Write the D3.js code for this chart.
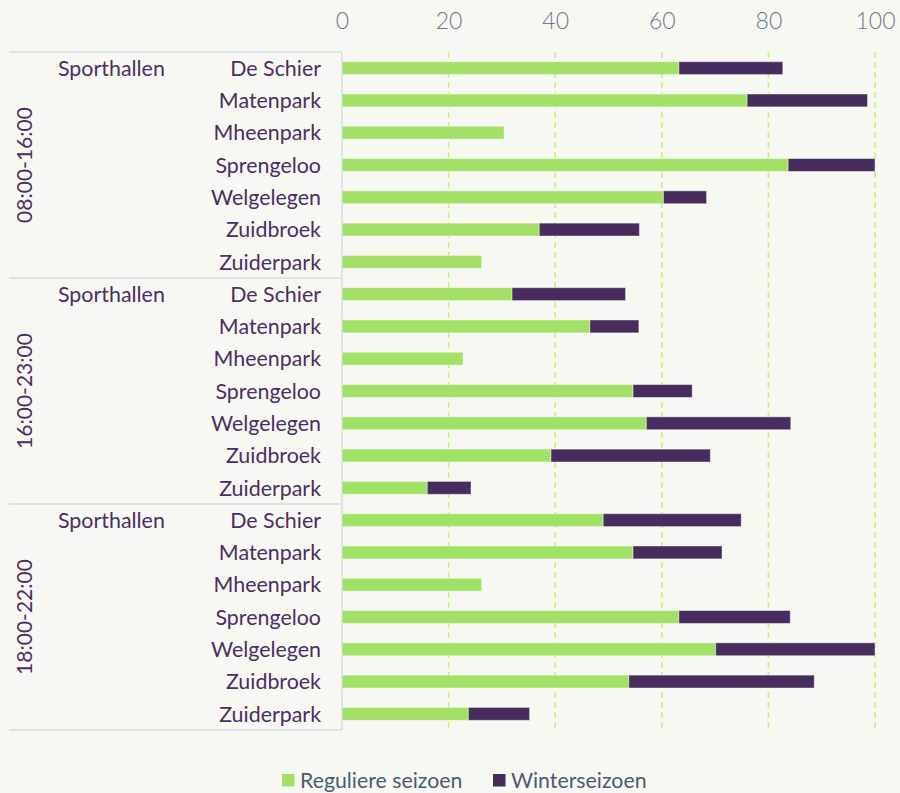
<!DOCTYPE html>
<meta charset="utf-8">
<script src="https://d3js.org/d3.v7.min.js"></script>
<style>
  body { margin: 0; background: #f8f8f3; }
  text { font-family: Lato, "Open Sans", sans-serif; }
</style>
<div id="chart"></div>
<script>
  // data
  const periods = ["08:00-16:00", "16:00-23:00", "18:00-22:00"];
  const halls = ["De Schier", "Matenpark", "Mheenpark", "Sprengeloo", "Welgelegen", "Zuidbroek", "Zuiderpark"];
  const regulier = [
    63.2, 76.0, 30.4, 83.7, 60.3, 37.0, 26.2,
    31.9, 46.5, 22.7, 54.6, 57.1, 39.2, 16.0,
    49.0, 54.6, 26.2, 63.2, 70.1, 53.8, 23.7
  ];
  const winter = [
    19.5, 22.6, 0, 16.3, 8.1, 18.8, 0,
    21.3, 9.2, 0, 11.1, 27.1, 29.9, 8.2,
    25.9, 16.7, 0, 20.9, 29.9, 34.8, 11.5
  ];
  const ticks = [0, 20, 40, 60, 80, 100];
  const seriesNames = ["Reguliere seizoen", "Winterseizoen"];

  const colors = ["#a2e068", "#472c5e"];
  const textColor = "#4a2f63";

  const width = 900, height = 793;
  const svg = d3.select("#chart").append("svg")
    .attr("width", width)
    .attr("height", height);

  // rows = period x hall
  const rows = [];
  periods.forEach((p, gi) => {
    halls.forEach((h, hi) => {
      const i = gi * halls.length + hi;
      rows.push({key: p + "|" + h, period: p, hall: h, first: hi === 0, reg: regulier[i], win: winter[i]});
    });
  });

  const plotTop = 52, plotBottom = 730;
  const x = d3.scaleLinear().domain([0, 100]).range([342, 875]);
  const y = d3.scaleBand()
    .domain(rows.map(d => d.key))
    .range([plotTop, plotBottom])
    .paddingInner(0.6)
    .paddingOuter(0.3);
  const step = y.step();

  // gridlines
  svg.append("g")
    .selectAll("line")
    .data(ticks.filter(t => t > 0))
    .join("line")
      .attr("x1", d => x(d)).attr("x2", d => x(d))
      .attr("y1", plotTop).attr("y2", plotBottom)
      .attr("stroke", "#c0f283")
      .attr("stroke-width", 1.6)
      .attr("stroke-dasharray", "6,4");

  // top axis labels
  const axis = svg.append("g")
    .attr("transform", "translate(0,29)")
    .call(d3.axisTop(x).tickValues(ticks).tickSize(0).tickPadding(0));
  axis.select(".domain").remove();
  axis.selectAll("text")
    .attr("y", 0).attr("dy", 0)
    .style("font-family", "Lato, sans-serif")
    .style("font-size", "23px")
    .style("font-weight", 300)
    .attr("fill", "#6c7a8f");

  // table lines
  const sep = periods.map((p, i) => plotTop + i * halls.length * step).concat([plotBottom]);
  svg.append("g")
    .selectAll("line")
    .data(sep)
    .join("line")
      .attr("x1", 9).attr("x2", 342)
      .attr("y1", d => d).attr("y2", d => d)
      .attr("stroke", "#dde2eb")
      .attr("stroke-width", 2);
  svg.append("line")
    .attr("x1", 342).attr("x2", 342)
    .attr("y1", plotTop).attr("y2", plotBottom)
    .attr("stroke", "#dde2eb")
    .attr("stroke-width", 2);

  // bars
  const barG = svg.append("g");
  barG.selectAll("rect.reg")
    .data(rows)
    .join("rect")
      .attr("class", "reg")
      .attr("x", x(0))
      .attr("y", d => y(d.key))
      .attr("width", d => x(d.reg) - x(0))
      .attr("height", y.bandwidth())
      .attr("fill", colors[0])
      .attr("stroke", "#ffffff")
      .attr("stroke-opacity", 0.45)
      .attr("stroke-width", 1);
  barG.selectAll("rect.win")
    .data(rows.filter(d => d.win > 0))
    .join("rect")
      .attr("class", "win")
      .attr("x", d => x(d.reg))
      .attr("y", d => y(d.key))
      .attr("width", d => x(d.reg + d.win) - x(d.reg))
      .attr("height", y.bandwidth())
      .attr("fill", colors[1])
      .attr("stroke", "#ffffff")
      .attr("stroke-opacity", 0.45)
      .attr("stroke-width", 1);

  // hall labels
  const labels = svg.append("g")
    .style("font-size", "21.4px")
    .attr("fill", textColor);
  labels.selectAll("text.hall")
    .data(rows)
    .join("text")
      .attr("class", "hall")
      .attr("x", 321)
      .attr("y", d => y(d.key) + y.bandwidth() / 2)
      .attr("dy", "0.36em")
      .attr("text-anchor", "end")
      .text(d => d.hall);
  labels.selectAll("text.type")
    .data(rows.filter(d => d.first))
    .join("text")
      .attr("class", "type")
      .attr("x", 58)
      .attr("y", d => y(d.key) + y.bandwidth() / 2)
      .attr("dy", "0.36em")
      .text("Sporthallen");
  labels.selectAll("text.period")
    .data(periods)
    .join("text")
      .attr("class", "period")
      .attr("transform", (d, i) => `translate(32,${(sep[i] + sep[i + 1]) / 2}) rotate(-90)`)
      .attr("text-anchor", "middle")
      .style("font-size", "21px")
      .text(d => d);

  // legend
  const legend = svg.append("g").attr("transform", "translate(282,774)");
  const offs = [0, 211];
  seriesNames.forEach((name, i) => {
    const g = legend.append("g").attr("transform", `translate(${offs[i]},0)`);
    g.append("rect").attr("width", 12.5).attr("height", 12.5).attr("fill", colors[i]);
    g.append("text")
      .attr("x", 18).attr("y", 14)
      .style("font-size", "21.3px")
      .attr("fill", "#4b5b72")
      .text(name);
  });
</script>
